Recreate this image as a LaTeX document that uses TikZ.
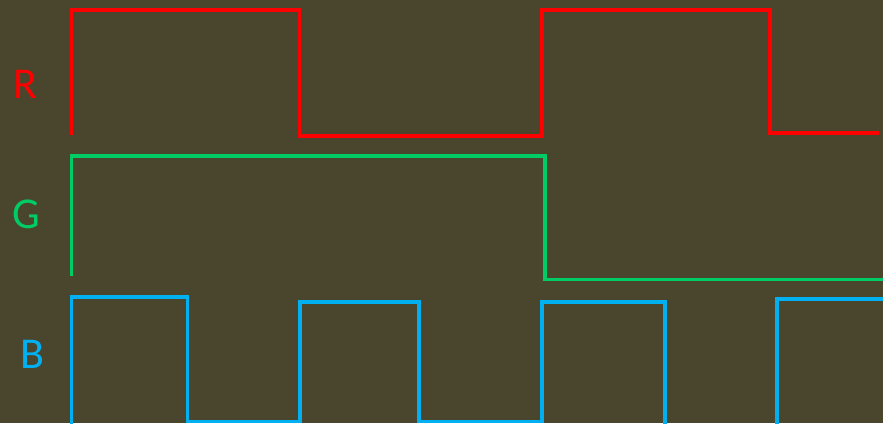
\documentclass[tikz,border=0pt]{standalone}
\usepackage{fontspec}
\setmainfont{Carlito}
\definecolor{bgc}{RGB}{74,69,45}
\definecolor{rc}{RGB}{255,0,0}
\definecolor{gc}{RGB}{0,204,102}
\definecolor{bc}{RGB}{0,176,240}
\begin{document}
\begin{tikzpicture}[x=1pt,y=-1pt,
  wave/.style={line width=3.2pt},
  lbl/.style={font=\fontsize{44}{44}\selectfont, inner sep=0pt, anchor=center}]
\fill[bgc] (0,0) rectangle (883,423);
\useasboundingbox (0,0) rectangle (883,423);
\node[lbl, text=rc] (labR) at (25.5,84) {R};
\node[lbl, text=gc] (labG) at (26,214) {G};
\node[lbl, text=bc] (labB) at (32,354) {B};
\draw[wave, rc] (71.5,135) -- (71.5,10) -- (299.5,10) -- (299.5,136) -- (542,136) -- (542,10) -- (770,10) -- (770,133) -- (879,133);
\draw[wave, gc] (71.5,276) -- (71.5,156) -- (545,156) -- (545,279.5) -- (883,279.5);
\draw[wave, bc] (71.5,425) -- (71.5,297) -- (187.5,297) -- (187.5,421.5) -- (300,421.5) -- (300,302) -- (419,302) -- (419,421.5) -- (542,421.5) -- (542,302) -- (665,302) -- (665,425);
\draw[wave, bc] (777,425) -- (777,299) -- (885,299);
\end{tikzpicture}
\end{document}
